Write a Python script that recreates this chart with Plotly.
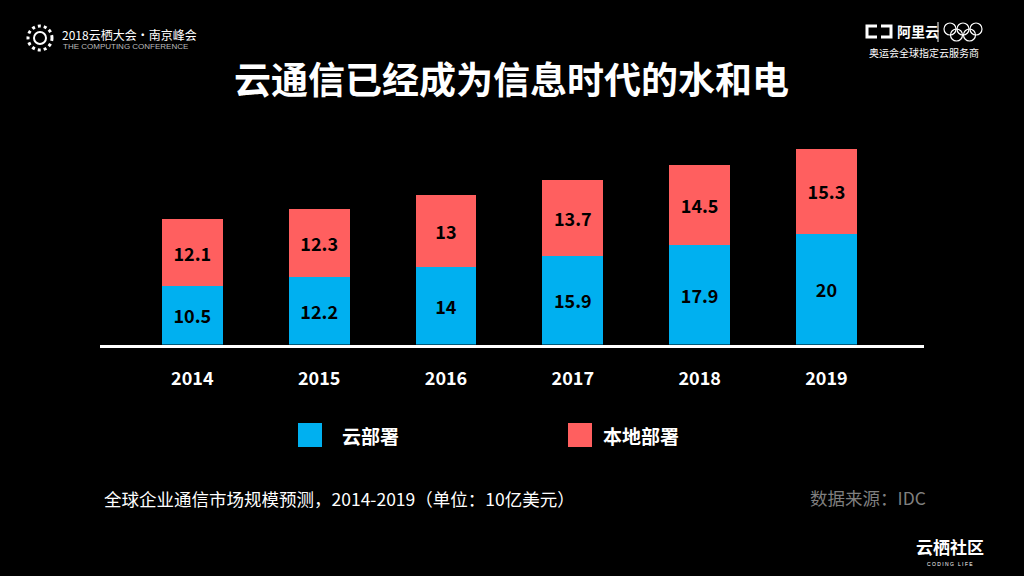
import plotly.graph_objects as go

# ---- data ----
years = ["2014", "2015", "2016", "2017", "2018", "2019"]
cloud = [10.5, 12.2, 14, 15.9, 17.9, 20]
local = [12.1, 12.3, 13, 13.7, 14.5, 15.3]
series_names = ["云部署", "本地部署"]
title_text = "云通信已经成为信息时代的水和电"
footnote = "全球企业通信市场规模预测，2014-2019（单位：10亿美元）"
source = "数据来源：IDC"

W, H = 1024, 576
BLUE = "#00B0F0"
RED = "#FF5F5F"
FONT = "Noto Sans CJK SC"


def px(x):
    return x / W


def py(y):
    return 1 - y / H


fig = go.Figure()
x_idx = list(range(len(years)))
fig.add_trace(go.Bar(
    x=x_idx, y=cloud, name=series_names[0], marker=dict(color=BLUE, line=dict(width=0)),
    text=[f"{v:g}" for v in cloud], textposition="inside", insidetextanchor="middle",
    textangle=0, textfont=dict(family=FONT, size=18, color="black", weight="bold"),
    width=0.48, showlegend=False, hoverinfo="skip",
))
fig.add_trace(go.Bar(
    x=x_idx, y=local, name=series_names[1], marker=dict(color=RED, line=dict(width=0)),
    text=[f"{v:g}" for v in local], textposition="inside", insidetextanchor="middle",
    textangle=0, textfont=dict(family=FONT, size=18, color="black", weight="bold"),
    width=0.48, showlegend=False, hoverinfo="skip",
))

y_bottom_px = 344.5
y_top_px = 100
scale = 5.55

fig.update_layout(
    width=W, height=H,
    barmode="stack",
    paper_bgcolor="black", plot_bgcolor="black",
    margin=dict(l=0, r=0, t=0, b=0),
    showlegend=False,
    uniformtext=dict(minsize=18, mode="show"),
    xaxis=dict(
        domain=[px(100), px(924)],
        range=[-0.728, 5.769],
        tickvals=x_idx, ticktext=years,
        tickfont=dict(family=FONT, size=18, color="white", weight="bold"),
        showline=True, linecolor="white", linewidth=3,
        showgrid=False, zeroline=False, ticks="",
        ticklabelstandoff=16,
    ),
    yaxis=dict(
        domain=[py(y_bottom_px), py(y_top_px)],
        range=[0, (y_bottom_px - y_top_px) / scale],
        visible=False, showgrid=False, zeroline=False,
    ),
)

annotations = []
shapes = []

# title
annotations.append(dict(text=title_text, x=px(511), y=py(78), xref="paper", yref="paper",
                        showarrow=False, xanchor="center", yanchor="middle",
                        font=dict(family=FONT, size=37, color="white", weight="bold")))

# legend (drawn manually to match large swatches)
for (x0, tx, name, col) in [(298, 340, series_names[0], BLUE), (568, 601, series_names[1], RED)]:
    shapes.append(dict(type="rect", xref="paper", yref="paper",
                       x0=px(x0), x1=px(x0 + 24), y0=py(447), y1=py(423),
                       fillcolor=col, line=dict(width=0)))
    annotations.append(dict(text=name, x=px(tx), y=py(435), xref="paper", yref="paper",
                            showarrow=False, xanchor="left", yanchor="middle",
                            font=dict(family=FONT, size=19, color="white", weight="bold")))

# footnote & source
annotations.append(dict(text=footnote, x=px(102), y=py(498), xref="paper", yref="paper",
                        showarrow=False, xanchor="left", yanchor="middle",
                        font=dict(family=FONT, size=17.5, color="white")))
annotations.append(dict(text=source, x=px(928), y=py(497), xref="paper", yref="paper",
                        showarrow=False, xanchor="right", yanchor="middle",
                        font=dict(family=FONT, size=17.5, color="#7f7f7f")))

# header left
shapes.append(dict(type="circle", xref="paper", yref="paper",
                   x0=px(28), x1=px(52), y0=py(50), y1=py(26),
                   line=dict(color="white", width=3, dash="dot")))
shapes.append(dict(type="circle", xref="paper", yref="paper",
                   x0=px(34), x1=px(46), y0=py(44), y1=py(32),
                   line=dict(color="white", width=2)))
annotations.append(dict(text="2018云栖大会·南京峰会", x=px(60), y=py(34), xref="paper", yref="paper",
                        showarrow=False, xanchor="left", yanchor="middle",
                        font=dict(family=FONT, size=12, color="white")))
annotations.append(dict(text="THE COMPUTING CONFERENCE", x=px(61), y=py(47), xref="paper", yref="paper",
                        showarrow=False, xanchor="left", yanchor="middle",
                        font=dict(family="Liberation Sans", size=8, color="#bbbbbb")))

# header right: bracket icon, name, divider, rings, tagline
shapes.append(dict(type="path", xref="paper", yref="paper",
                   path=f"M {px(877)},{py(26)} L {px(867)},{py(26)} L {px(867)},{py(37)} L {px(877)},{py(37)}",
                   line=dict(color="white", width=3)))
shapes.append(dict(type="path", xref="paper", yref="paper",
                   path=f"M {px(881)},{py(26)} L {px(891)},{py(26)} L {px(891)},{py(37)} L {px(881)},{py(37)}",
                   line=dict(color="white", width=3)))
annotations.append(dict(text="阿里云", x=px(895), y=py(31), xref="paper", yref="paper",
                        showarrow=False, xanchor="left", yanchor="middle",
                        font=dict(family=FONT, size=14, color="white", weight="bold")))
shapes.append(dict(type="line", xref="paper", yref="paper",
                   x0=px(938), x1=px(938), y0=py(22), y1=py(42),
                   line=dict(color="white", width=1)))
for (cx, cy) in [(950, 29), (963, 29), (976, 29), (956.5, 35), (969.5, 35)]:
    shapes.append(dict(type="circle", xref="paper", yref="paper",
                       x0=px(cx - 6), x1=px(cx + 6), y0=py(cy + 6), y1=py(cy - 6),
                       line=dict(color="white", width=1.2)))
annotations.append(dict(text="奥运会全球指定云服务商", x=px(924), y=py(53), xref="paper", yref="paper",
                        showarrow=False, xanchor="center", yanchor="middle",
                        font=dict(family=FONT, size=10, color="white")))

# bottom right brand
annotations.append(dict(text="云栖社区", x=px(950), y=py(546), xref="paper", yref="paper",
                        showarrow=False, xanchor="center", yanchor="middle",
                        font=dict(family=FONT, size=17, color="white", weight="bold")))
annotations.append(dict(text="C O D I N G   L I F E", x=px(950), y=py(564), xref="paper", yref="paper",
                        showarrow=False, xanchor="center", yanchor="middle",
                        font=dict(family="Liberation Sans", size=5, color="white")))

fig.update_layout(annotations=annotations, shapes=shapes)

fig.write_html("out.html",
               config={"displayModeBar": False},
               post_script="document.body.style.margin='0';document.body.style.background='black';")
